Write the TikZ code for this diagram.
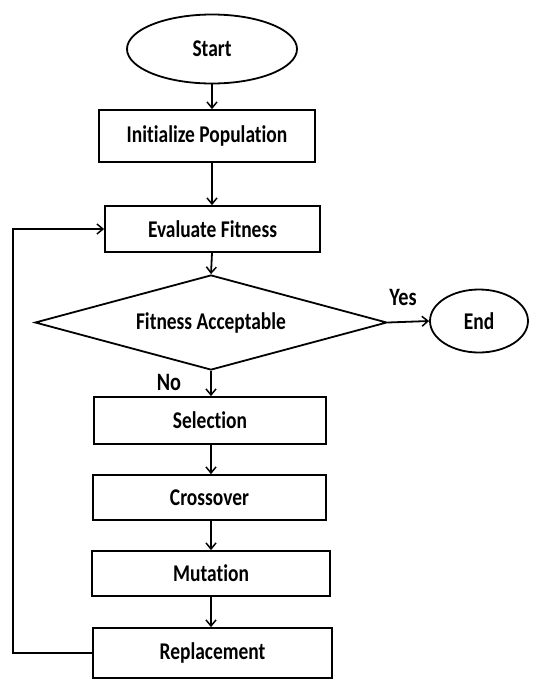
\documentclass[tikz,border=0pt]{standalone}
\usepackage{fontspec}
\setmainfont{Carlito}[FakeStretch=0.81, Ligatures={NoCommon}]
\usetikzlibrary{shapes.geometric,arrows.meta}
\begin{document}
\begin{tikzpicture}[x=1pt,y=1pt,
  every node/.style={font=\fontsize{24}{27}\selectfont\bfseries, inner sep=0pt},
  box/.style={draw, line width=1.8pt, rectangle},
  oval/.style={draw, line width=1.8pt, ellipse},
  decide/.style={draw, line width=1.8pt, diamond, shape aspect=3.7, minimum width=352pt, minimum height=95pt},
  arr/.style={line width=1.8pt, -{Straight Barb[length=6pt,width=10pt,line width=1.5pt]}},
  lbl/.style={font=\fontsize{25}{28}\selectfont\bfseries}]
\useasboundingbox (0,0) rectangle (553,-681);
\node[oval, minimum width=170pt, minimum height=69pt] (start) at (212,-49) {Start};
\node[box, minimum width=216pt, minimum height=52pt] (init) at (207,-136) {Initialize Population};
\node[box, minimum width=215pt, minimum height=46pt] (eval) at (212.5,-229) {Evaluate Fitness};
\node[decide] (fit) at (211,-322.5) {Fitness Acceptable};
\node[oval, minimum width=98pt, minimum height=63pt] (end) at (479,-321) {End};
\node[box, minimum width=232pt, minimum height=47pt] (sel) at (210,-420.5) {Selection};
\node[box, minimum width=233pt, minimum height=45pt] (cross) at (209.5,-497.5) {Crossover};
\node[box, minimum width=238pt, minimum height=45pt] (mut) at (211,-573.5) {Mutation};
\node[box, minimum width=239pt, minimum height=50pt] (rep) at (212.5,-653) {Replacement};
\node[lbl] (yes) at (403,-297) {Yes};
\node[lbl] (no) at (169,-382) {No};
\coordinate (xl) at (13,0);
\draw[arr] (start.south) -- (start.south |- init.north);
\draw[arr] (start.south |- init.south) -- (start.south |- eval.north);
\draw[arr] (start.south |- eval.south) -- (fit.north);
\draw[arr] (fit.east) -- (end.west);
\draw[arr] (fit.south) -- (fit.south |- sel.north);
\draw[arr] (fit.south |- sel.south) -- (fit.south |- cross.north);
\draw[arr] (fit.south |- cross.south) -- (fit.south |- mut.north);
\draw[arr] (fit.south |- mut.south) -- (fit.south |- rep.north);
\draw[arr] (rep.west) -- (xl |- rep.west) -- (xl |- eval.west) -- (eval.west);
\end{tikzpicture}
\end{document}
